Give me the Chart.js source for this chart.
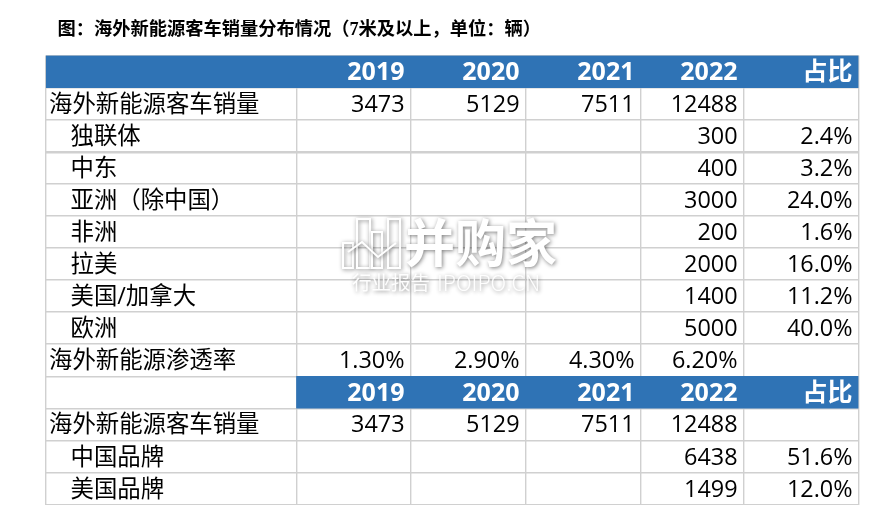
<!DOCTYPE html>
<html>
<head>
<meta charset="utf-8">
<title>海外新能源客车销量分布情况</title>
<script src="https://cdn.jsdelivr.net/npm/chart.js@4"></script>
<style>
    html, body { margin: 0; padding: 0; background: #fff; }
    #wrap { position: relative; width: 895px; height: 505px; }
</style>
</head>
<body>
<div id="wrap"><canvas id="tableChart" width="895" height="505"></canvas></div>
<script>
// --- Table values ---
const titleText = "图：海外新能源客车销量分布情况（7米及以上，单位：辆）";
const years = ["2019", "2020", "2021", "2022"];
const shareHead = "占比";

const totalLabel = "海外新能源客车销量";
const totalSales = [3473, 5129, 7511, 12488];

const regionNames = ["独联体", "中东", "亚洲（除中国）", "非洲", "拉美", "美国/加拿大", "欧洲"];
const regionSales = [300, 400, 3000, 200, 2000, 1400, 5000];
const regionShare = [2.4, 3.2, 24.0, 1.6, 16.0, 11.2, 40.0];

const penetrationLabel = "海外新能源渗透率";
const penetration = [1.3, 2.9, 4.3, 6.2];

const brandNames = ["中国品牌", "美国品牌"];
const brandSales = [6438, 1499];
const brandShare = [51.6, 12.0];

// Layout, the x scale runs in pixels of table width
const columnEdges = [0, 251, 365, 480, 595, 698, 813];
const headerColor = "#2f73b5";
const gridColor = "#d0d0d0";
const cellFont = '23.4px "Open Sans", "Noto Sans CJK SC", sans-serif';
const headFont = 'bold 25px "Open Sans", "Noto Sans CJK SC", sans-serif';
const titleFont = 'bold 18.25px "Liberation Serif", "Noto Sans CJK SC", serif';
const wmFont = '"Noto Sans CJK SC", sans-serif';

// Build the rows: every row is { label, indent, cells, head }
function blanks(n) {
    return new Array(n).fill("");
}

let rows = [];
rows.push({ label: "", head: true, cells: [...years, shareHead] });
rows.push({ label: totalLabel, cells: [...totalSales.map(String), ""] });
regionNames.forEach((name, i) => {
    rows.push({
        label: name, indent: true,
        cells: [...blanks(3), String(regionSales[i]), regionShare[i].toFixed(1) + "%"]
    });
});
rows.push({ label: penetrationLabel, cells: [...penetration.map(v => v.toFixed(2) + "%"), ""] });
rows.push({ label: "", head: true, cells: [...years, shareHead] });
rows.push({ label: totalLabel, cells: [...totalSales.map(String), ""] });
brandNames.forEach((name, i) => {
    rows.push({
        label: name, indent: true,
        cells: [...blanks(3), String(brandSales[i]), brandShare[i].toFixed(1) + "%"]
    });
});

// Header fills are floating bars, the second header skips the label column
const headerBars = rows.map((row, i) => {
    if (!row.head) return null;
    return [i === 0 ? columnEdges[0] : columnEdges[1], columnEdges[columnEdges.length - 1]];
});

// Writes the title, the cell texts and the watermark
const tableText = {
    id: "tableText",
    afterDatasetsDraw(chart) {
        const ctx = chart.ctx;
        const xs = chart.scales.x;
        const ys = chart.scales.y;

        ctx.save();
        ctx.textBaseline = "middle";

        ctx.font = titleFont;
        ctx.fillStyle = "#000";
        ctx.textAlign = "left";
        ctx.fillText(titleText, xs.getPixelForValue(12), 30);

        rows.forEach((row, r) => {
            const y = ys.getPixelForValue(r) + 1.5;
            ctx.fillStyle = row.head ? "#fff" : "#000";
            ctx.font = row.head ? headFont : cellFont;

            if (row.label) {
                ctx.textAlign = "left";
                ctx.fillText(row.label, xs.getPixelForValue(row.indent ? 25 : 3.5), y);
            }
            ctx.textAlign = "right";
            row.cells.forEach((text, c) => {
                if (text) ctx.fillText(text, xs.getPixelForValue(columnEdges[c + 2]) - 6, y);
            });
        });
        ctx.restore();

        drawWatermark(ctx);
    }
};

function drawWatermark(ctx) {
    ctx.save();
    ctx.shadowColor = "rgba(0,0,0,0.5)";
    ctx.shadowBlur = 4;
    ctx.shadowOffsetX = 1;
    ctx.shadowOffsetY = 1;
    ctx.strokeStyle = "#fff";
    ctx.fillStyle = "#fff";
    ctx.textBaseline = "middle";
    ctx.textAlign = "left";

    // small bar icon
    ctx.lineWidth = 2;
    [[343, 243, 10, 25], [357, 219, 13, 49], [372, 232, 10, 36], [388, 219, 12, 49]].forEach(b => {
        ctx.strokeRect(b[0], b[1], b[2], b[3]);
    });
    ctx.beginPath();
    ctx.moveTo(348, 252);
    ctx.lineTo(362, 242);
    ctx.lineTo(378, 257);
    ctx.lineTo(396, 243);
    ctx.stroke();

    ctx.font = "bold 51px " + wmFont;
    ctx.fillText("并购家", 404, 243);

    ctx.font = "19.5px " + wmFont;
    ctx.fillStyle = "rgba(255,255,255,0.95)";
    ctx.fillText("行业报告", 352, 283);
    ctx.font = "300 21.5px " + wmFont;
    ctx.fillText("IPOIPO.CN", 437, 283);
    ctx.restore();
}

new Chart(document.getElementById("tableChart"), {
    type: "bar",
    data: {
        labels: rows.map(row => row.label),
        datasets: [{
            data: headerBars,
            backgroundColor: headerColor,
            barPercentage: 1,
            categoryPercentage: 1,
            borderSkipped: false
        }]
    },
    options: {
        indexAxis: "y",
        responsive: false,
        animation: false,
        layout: { padding: { top: 55.5, left: 45.5, right: 36.5, bottom: 0.5 } },
        plugins: { legend: { display: false }, tooltip: { enabled: false }, title: { display: false } },
        scales: {
            x: {
                type: "linear",
                min: 0,
                max: 813,
                afterBuildTicks(scale) {
                    scale.ticks = columnEdges.map(v => ({ value: v }));
                },
                ticks: { display: false },
                border: { display: false },
                grid: { color: gridColor, drawTicks: false, lineWidth: 1.4 }
            },
            y: {
                ticks: { display: false },
                border: { display: false },
                grid: {
                    color: gridColor,
                    drawTicks: false,
                    lineWidth: c => (c.index === 3 ? 2.4 : 1.4)
                }
            }
        }
    },
    plugins: [tableText]
});
</script>
</body>
</html>
